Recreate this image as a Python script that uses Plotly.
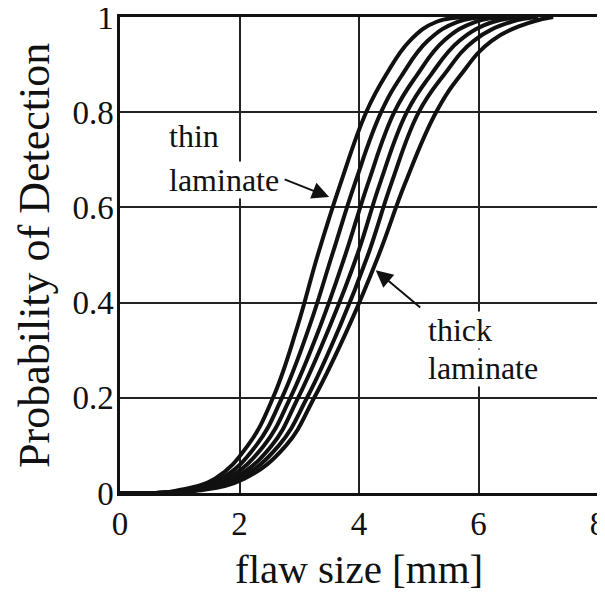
import plotly.graph_objects as go

pod_levels = [0, 0, 0.005, 0.03, 0.1, 0.2, 0.35, 0.5, 0.65, 0.8, 0.878, 0.95, 0.99, 1.0]

# Flaw size [mm] for each laminate thickness (thin -> thick)
size_c1 = [0, 0.6, 0.94, 1.59, 2.14, 2.56, 2.97, 3.31, 3.69, 4.12, 4.45, 4.85, 5.30, 5.90]
size_c2 = [0, 0.6, 1.00, 1.69, 2.28, 2.71, 3.17, 3.55, 3.93, 4.37, 4.72, 5.15, 5.65, 6.20]
size_c3 = [0, 0.6, 1.07, 1.79, 2.41, 2.85, 3.35, 3.77, 4.15, 4.59, 4.97, 5.42, 5.95, 6.50]
size_c4 = [0, 0.6, 1.13, 1.89, 2.54, 2.98, 3.51, 3.97, 4.35, 4.80, 5.20, 5.68, 6.25, 6.80]
size_c5 = [0, 0.6, 1.22, 1.98, 2.66, 3.13, 3.68, 4.15, 4.54, 5.00, 5.42, 5.92, 6.55, 7.00]
size_c6 = [0, 0.6, 1.30, 2.08, 2.78, 3.25, 3.83, 4.33, 4.77, 5.29, 5.70, 6.22, 6.90, 7.25]

curves = [size_c1, size_c2, size_c3, size_c4, size_c5, size_c6]

x_ticks = [0, 2, 4, 6, 8]
y_ticks = [0, 0.2, 0.4, 0.6, 0.8, 1]
y_tick_text = ["0", "0.2", "0.4", "0.6", "0.8", "1"]

FONT = "Liberation Serif"

fig = go.Figure()
for c in curves:
    fig.add_trace(go.Scatter(
        x=c, y=pod_levels, mode="lines",
        line=dict(color="#111111", width=4, shape="spline", smoothing=1.2),
        showlegend=False, hoverinfo="skip", cliponaxis=True,
    ))

axis_common = dict(
    showgrid=True, gridcolor="#222222", gridwidth=1.5,
    showline=True, linecolor="#111111", linewidth=2.5, mirror=True,
    zeroline=False, ticks="", automargin=False, ticklabeloverflow="allow",
    tickfont=dict(family=FONT, size=33, color="#111111"),
)

# The page body adds an 8px offset, so the figure is sized to place the plot area
# at the same pixels as the reference.
fig.update_layout(
    width=597, height=588,
    margin=dict(l=112, r=7, t=9, b=103),
    paper_bgcolor="white", plot_bgcolor="white",
    xaxis=dict(range=[0, 8], tickvals=x_ticks, ticktext=[str(v) for v in x_ticks],
               ticklabelstandoff=0, **axis_common),
    yaxis=dict(range=[0, 1], tickvals=y_ticks, ticktext=y_tick_text,
               ticklabelstandoff=-3, **axis_common),
)

# axis titles
fig.add_annotation(x=0.5, y=-0.160, xref="paper", yref="paper", text="flaw size [mm]",
                   showarrow=False, xanchor="center", yanchor="middle",
                   font=dict(family=FONT, size=41, color="#111111"))
fig.add_annotation(x=-0.180, y=0.5, xref="paper", yref="paper", text="Probability of Detection",
                   showarrow=False, xanchor="center", yanchor="middle", textangle=-90,
                   font=dict(family=FONT, size=44, color="#111111"))

ann_font = dict(family=FONT, size=32, color="#111111")
labels = [
    ("thin", 0.80, 0.750),
    ("laminate", 0.80, 0.657),
    ("thick", 5.14, 0.342),
    ("laminate", 5.14, 0.263),
]
for txt, xx, yy in labels:
    fig.add_annotation(x=xx, y=yy, xref="x", yref="y", text=txt, showarrow=False,
                       xanchor="left", yanchor="middle", font=ann_font,
                       bgcolor="white", borderpad=0)

arrows = [
    # (head_x, head_y, tail_x, tail_y)
    (3.50, 0.622, 2.73, 0.660),
    (4.28, 0.468, 5.05, 0.387),
]
for hx, hy, tx, ty in arrows:
    fig.add_annotation(x=hx, y=hy, ax=tx, ay=ty, xref="x", yref="y", axref="x", ayref="y",
                       text="", showarrow=True, arrowhead=2, arrowsize=1.7, arrowwidth=2,
                       arrowcolor="#111111", standoff=0)

fig.write_html("out.html")
